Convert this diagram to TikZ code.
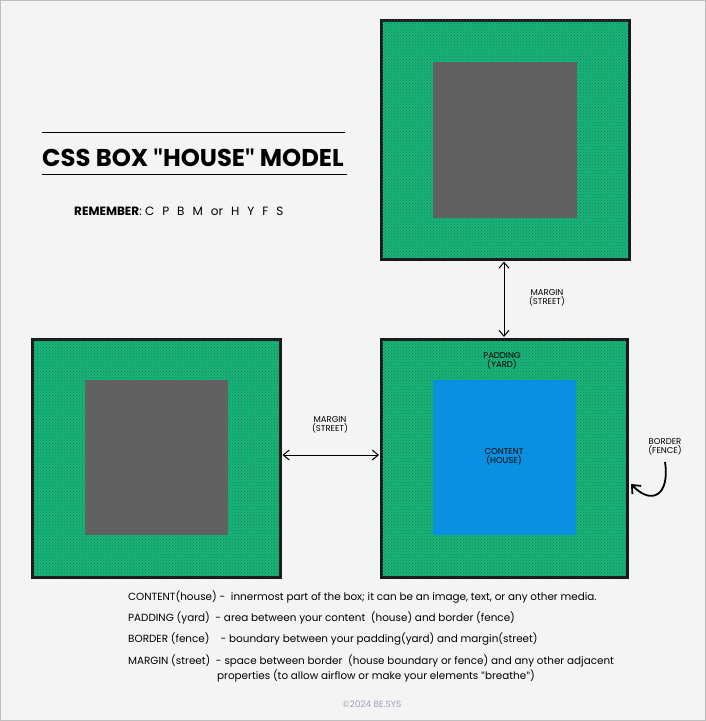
\documentclass[tikz,border=0pt]{standalone}
\usepackage{fontspec}
\setmainfont{Poppins}
\newfontfamily\quotefont{Lato}
\usetikzlibrary{arrows.meta,patterns}
\definecolor{bg}{HTML}{F4F4F4}
\definecolor{grass}{HTML}{12B87A}
\definecolor{grassdark}{HTML}{3A6A55}
\definecolor{house}{HTML}{616161}
\definecolor{content}{HTML}{0A90E0}
\definecolor{copy}{HTML}{9AA3B5}
\tikzset{
  x=1pt,y=-1pt,
  boxouter/.style={draw=black!90,line width=3pt,fill=grass},
  texture/.style={pattern=crosshatch dots,pattern color=grassdark},
  inner/.style={fill=house,draw=none},
  arr/.style={{Straight Barb[length=6pt,width=10pt]}-{Straight Barb[length=6pt,width=10pt]},line width=1pt},
  lbl/.style={font=\fontsize{8.5}{9.5}\selectfont,align=center,inner sep=0pt},
  body/.style={font=\fontsize{10.4}{12}\selectfont,anchor=west,inner sep=0pt},
}
\newcommand{\gp}{\hspace{8pt}}
\newcommand{\sq}{{\quotefont\symbol{34}}}
\begin{document}
\begin{tikzpicture}
\useasboundingbox (0,0) rectangle (706,721);
\fill[bg] (0,0) rectangle (706,721);
\draw[black!25,line width=1pt] (0.5,0.5) rectangle (705.5,720.5);
% top box
\node[boxouter,minimum width=248pt,minimum height=239pt,inner sep=0pt] (top) at (505,139.5) {};
\fill[texture] (381.5,20.5) rectangle (628.5,258.5);
\node[inner,minimum width=144pt,minimum height=156pt,inner sep=0pt] (tophouse) at (505,140) {};
% bottom left box
\node[boxouter,minimum width=248pt,minimum height=238pt,inner sep=0pt] (left) at (156,458) {};
\fill[texture] (32.5,339.5) rectangle (279.5,576.5);
\node[inner,minimum width=143pt,minimum height=155pt,inner sep=0pt] (lefthouse) at (156.5,457.5) {};
% bottom right box
\node[boxouter,minimum width=246pt,minimum height=238pt,inner sep=0pt] (right) at (504,458) {};
\fill[texture] (381.5,339.5) rectangle (626.5,576.5);
\node[fill=content,minimum width=143pt,minimum height=155pt,inner sep=0pt] (cont) at (504.5,457.5) {};
% labels
\node[lbl] (pad) at (502,361) {PADDING\\(YARD)};
\node[lbl] (ctext) at (504,457) {CONTENT\\(HOUSE)};
\node[lbl] (bord) at (665,447) {BORDER\\(FENCE)};
\node[lbl] (m1) at (547,298) {MARGIN\\(STREET)};
\node[lbl] (m2) at (330,425) {MARGIN\\(STREET)};
% arrows
\coordinate (a1) at (504,261.5);
\coordinate (a2) at (504,337);
\draw[arr] (a1) -- (a2);
\coordinate (b1) at (282.5,455);
\coordinate (b2) at (379,455);
\draw[arr] (b1) -- (b2);
\coordinate (c1) at (665,462);
\coordinate (c2) at (631,484);
\draw[line width=1.8pt,-{Straight Barb[length=7pt,width=12pt]}] (c1) .. controls (670,495) and (652,506) .. (c2);
% title
\draw[line width=1pt] (42,132) -- (345,132);
\draw[line width=1pt] (42,174) -- (347,174);
\node[font=\fontsize{24.3}{27}\selectfont\bfseries,inner sep=0pt,anchor=west] (title) at (42,158) {CSS BOX \sq HOUSE\sq\ MODEL};
\node[font=\fontsize{12}{14}\selectfont,inner sep=0pt,anchor=west] (rem) at (74,211) {\textbf{REMEMBER}: C\gp P\gp B\gp M\gp or\gp H\gp Y\gp F\gp S};
% body text
\node[body] (t1) at (128,597) {CONTENT(house) -\ \ innermost part of the box; it can be an image, text, or any other media.};
\node[body] (t2) at (128,618) {PADDING (yard)\ \ - area between your content\ \ (house) and border (fence)};
\node[body] (t3) at (128,639) {BORDER (fence)\ \ \ \ - boundary between your padding(yard) and margin(street)};
\node[body] (t4) at (128,661) {MARGIN (street)\ \ - space between border\ \ (house boundary or fence) and any other adjacent};
\node[body,anchor=center] (t5) at (376,676) {properties (to allow airflow or make your elements \sq breathe\sq)};
\node[font=\fontsize{9}{10}\selectfont,text=copy,inner sep=0pt] (cp) at (372,704) {©2024 BE.SYS};
\end{tikzpicture}
\end{document}
